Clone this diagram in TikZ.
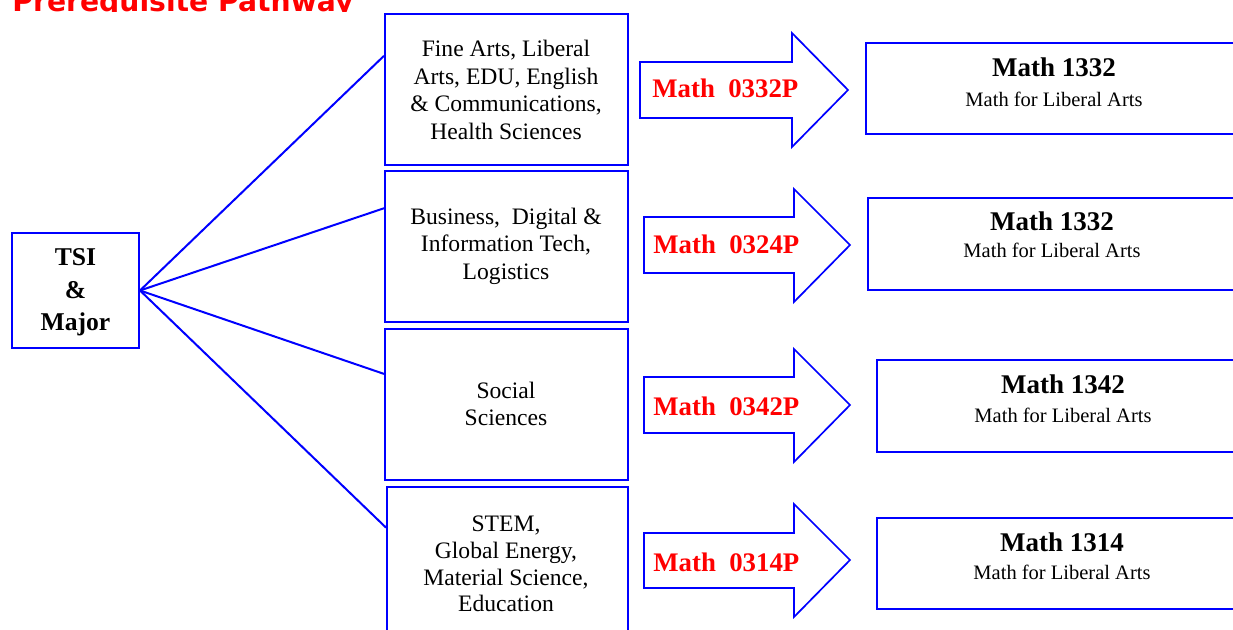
\documentclass[tikz,border=0pt]{standalone}
\usepackage{fontspec}
\usepackage{graphicx}
\setmainfont{Liberation Serif}
\newfontfamily\titlefont{DejaVu Sans}
\usetikzlibrary{fit,calc}
\definecolor{dblue}{RGB}{0,0,255}
\definecolor{dred}{RGB}{255,0,0}
\begin{document}
\begin{tikzpicture}[x=0.5pt,y=-0.5pt,
  box/.style={draw=dblue,line width=1pt,inner sep=0pt},
  link/.style={draw=dblue,line width=1pt},
  blockarrow/.style={draw=dblue,fill=white,line width=0.85pt,line join=miter},
  midtext/.style={font=\fontsize{11.8}{13.8}\selectfont,align=center,inner sep=0pt},
  tsitext/.style={font=\fontsize{12.8}{16.25}\selectfont\bfseries,align=center,inner sep=0pt},
  redlbl/.style={font=\fontsize{13.4}{14}\selectfont\bfseries,text=dred,anchor=base west,inner sep=0pt},
  rtitle/.style={font=\fontsize{13.5}{14}\selectfont\bfseries,anchor=base,inner sep=0pt},
  rsub/.style={font=\fontsize{10.25}{12}\selectfont,anchor=base,inner sep=0pt}
]
\useasboundingbox (0,0) rectangle (1233,630);
\clip (0,0) rectangle (1233,630);

% title (cut off at the top)
\begin{scope}
  \clip (0,0) rectangle (420,12);
  \node[anchor=base west,inner sep=0pt,text=dred,font=\titlefont\bfseries\fontsize{13}{14}\selectfont] (title) at (12,11.5) {\resizebox{170.5pt}{!}{Prerequisite Pathway}};
\end{scope}

% TSI box
\node[box,fit={(12,233)(139,348)}] (tsi) {};
\node[tsitext] (tsil) at ($(tsi.center)+(0,2)$) {TSI\\\&\\Major};

% middle boxes
\node[box,fit={(385,14)(628,165)}] (b1) {};
\node[box,fit={(385,171)(628,322)}] (b2) {};
\node[box,fit={(385,329)(628,480)}] (b3) {};
\node[box,fit={(387,487)(628,645)}] (b4) {};

\node[midtext] (b1t) at (506,90) {Fine Arts, Liberal\\Arts, EDU, English\\\& Communications,\\Health Sciences};
\node[midtext] (b2t) at (506,246) {Business,\ \ Digital \&\\Information Tech,\\Logistics};
\node[midtext] (b3t) at (506,404) {Social\\Sciences};
\node[midtext,font=\fontsize{11.8}{13.4}\selectfont] (b4t) at (506,564) {STEM,\\Global Energy,\\Material Science,\\Education};

% connectors
\coordinate (e1) at ($(b1.north west)!0.28!(b1.south west)$);
\coordinate (e2) at ($(b2.north west)!0.25!(b2.south west)$);
\coordinate (e3) at ($(b3.north west)!0.30!(b3.south west)$);
\coordinate (e4) at ($(b4.north west)!0.26!(b4.south west)$);
\draw[link] (tsi.east) -- (e1);
\draw[link] (tsi.east) -- (e2);
\draw[link] (tsi.east) -- (e3);
\draw[link] (tsi.east) -- (e4);

% block arrows
\draw[blockarrow] (640,62) -- (792,62) -- (792,33) -- (848,90) -- (792,147) -- (792,118) -- (640,118) -- cycle;
\draw[blockarrow] (644,217) -- (794,217) -- (794,189) -- (850,245) -- (794,302) -- (794,273) -- (644,273) -- cycle;
\draw[blockarrow] (644,377) -- (794,377) -- (794,349) -- (850,405) -- (794,462) -- (794,433) -- (644,433) -- cycle;
\draw[blockarrow] (644,533) -- (794,533) -- (794,504) -- (850,560) -- (794,617) -- (794,588) -- (644,588) -- cycle;

\node[redlbl] (a1t) at (652,98) {Math\ \ 0332P};
\node[redlbl] (a2t) at (653,254) {Math\ \ 0324P};
\node[redlbl] (a3t) at (653,416) {Math\ \ 0342P};
\node[redlbl] (a4t) at (653,572) {Math\ \ 0314P};

% right boxes
\node[box,fit={(866,43)(1250,134)}] (r1) {};
\node[box,fit={(868,198)(1250,290)}] (r2) {};
\node[box,fit={(877,360)(1250,452)}] (r3) {};
\node[box,fit={(877,518)(1250,609)}] (r4) {};

\node[rtitle] (r1t) at (1054,77) {Math 1332};
\node[rsub] (r1s) at (1054,107) {Math for Liberal Arts};
\node[rtitle] (r2t) at (1052,231) {Math 1332};
\node[rsub] (r2s) at (1052,258) {Math for Liberal Arts};
\node[rtitle] (r3t) at (1063,394) {Math 1342};
\node[rsub] (r3s) at (1063,423) {Math for Liberal Arts};
\node[rtitle] (r4t) at (1062,552) {Math 1314};
\node[rsub] (r4s) at (1062,580) {Math for Liberal Arts};
\end{tikzpicture}
\end{document}
